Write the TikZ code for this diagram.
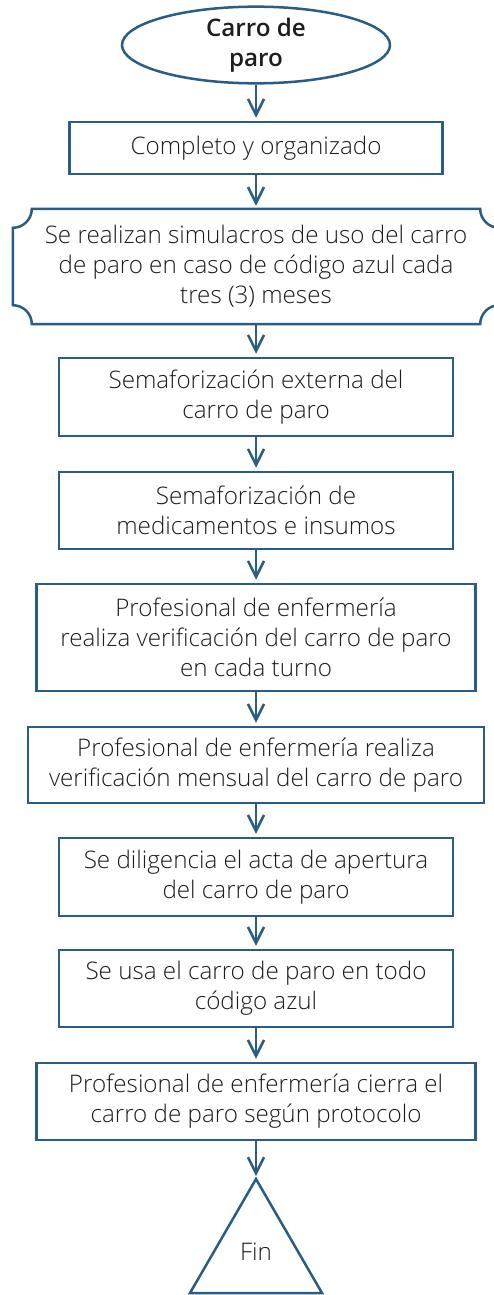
\documentclass[tikz,border=0pt]{standalone}
\usepackage{fontspec}
\setmainfont{Open Sans}[UprightFont={* Light},BoldFont={* Semibold}]
\usetikzlibrary{arrows.meta,shapes.geometric}
\definecolor{flowblue}{RGB}{42,93,132}
\definecolor{txt}{RGB}{30,30,30}
\tikzset{
  box/.style={draw=flowblue, line width=2.5pt, fill=white, rectangle, align=center, text=txt, font=\fontsize{24.2}{30}\selectfont, inner sep=0pt},
  flow/.style={draw=flowblue, line width=2.5pt, -{Straight Barb[length=16pt,width=16pt,line width=2.5pt]}, shorten >=3pt},
}
\begin{document}
\begin{tikzpicture}[x=1pt,y=1pt]
\useasboundingbox (0,0) rectangle (493,-1295);
\fill[white] (0,0) rectangle (493,-1295);
% start ellipse
\node[draw=flowblue, line width=2.5pt, ellipse, minimum width=268pt, minimum height=74pt, inner sep=0pt, align=center, text=txt, font=\fontsize{24.2}{30}\selectfont\bfseries] (start) at (256,-45) {Carro de\\paro};
\node[box, minimum width=373pt, minimum height=52pt] (b1) at (256,-148) {Completo y organizado};
% plaque shape
\node[align=center, text=txt, font=\fontsize{24.2}{30}\selectfont, minimum width=486pt, minimum height=115pt, inner sep=0pt] (b2) at (256,-266.5) {Se realizan simulacros de uso del carro\\de paro en caso de código azul cada\\tres (3) meses};
\draw[flowblue, line width=2.5pt]
  ([xshift=19pt]b2.north west) -- ([xshift=-19pt]b2.north east)
  arc[start angle=180, end angle=270, radius=19pt]
  -- ([yshift=19pt]b2.south east)
  arc[start angle=90, end angle=180, radius=19pt]
  -- ([xshift=19pt]b2.south west)
  arc[start angle=0, end angle=90, radius=19pt]
  -- ([yshift=-19pt]b2.north west)
  arc[start angle=270, end angle=360, radius=19pt] -- cycle;
\node[box, minimum width=394pt, minimum height=78pt] (b3) at (256,-397) {Semaforización externa del\\carro de paro};
\node[box, minimum width=394pt, minimum height=77pt] (b4) at (256,-510.5) {Semaforización de\\medicamentos e insumos};
\node[box, minimum width=439pt, minimum height=107pt] (b5) at (256,-637.5) {Profesional de enfermería\\realiza verificación del carro de paro\\en cada turno};
\node[box, minimum width=456pt, minimum height=76pt] (b6) at (256,-765) {Profesional de enfermería realiza\\verificación mensual del carro de paro};
\node[box, minimum width=394pt, minimum height=78pt] (b7) at (256,-877) {Se diligencia el acta de apertura\\del carro de paro};
\node[box, minimum width=394pt, minimum height=77pt] (b8) at (256,-988.5) {Se usa el carro de paro en todo\\código azul};
\node[box, minimum width=439pt, minimum height=77pt] (b9) at (256,-1101.5) {Profesional de enfermería cierra el\\carro de paro según protocolo};
% end triangle
\coordinate (apex) at (256,-1179);
\draw[flowblue, line width=2.5pt, line join=miter] (apex) -- (322,-1293) -- (190,-1293) -- cycle;
\node[text=txt, font=\fontsize{24.2}{30}\selectfont] (fin) at (256,-1252) {Fin};
% connectors
\draw[flow] (start.south) -- (b1.north);
\draw[flow] (b1.south) -- (b2.north);
\draw[flow] (b2.south) -- (b3.north);
\draw[flow] (b3.south) -- (b4.north);
\draw[flow] (b4.south) -- (b5.north);
\draw[flow] (b5.south) -- (b6.north);
\draw[flow] (b6.south) -- (b7.north);
\draw[flow] (b7.south) -- (b8.north);
\draw[flow] (b8.south) -- (b9.north);
\draw[flow] (b9.south) -- (apex);
\end{tikzpicture}
\end{document}
